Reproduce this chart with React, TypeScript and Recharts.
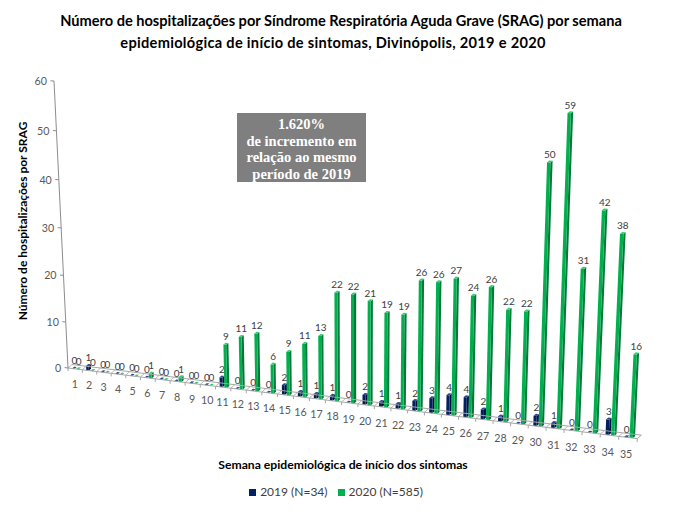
import React from 'react';
import { BarChart, Bar, XAxis, YAxis, Legend, LabelList } from 'recharts';

// Epidemiological weeks and weekly SRAG hospitalisations
const weeks = [
  '1', '2', '3', '4', '5', '6', '7', '8', '9', '10', '11', '12', '13', '14', '15', '16', '17', '18',
  '19', '20', '21', '22', '23', '24', '25', '26', '27', '28', '29', '30', '31', '32', '33', '34', '35',
];
const cases2019 = [0, 1, 0, 0, 0, 0, 0, 0, 0, 0, 2, 0, 0, 0, 2, 1, 1, 1, 0, 2, 1, 1, 2, 3, 4, 4, 2, 1, 0, 2, 1, 0, 0, 3, 0];
const cases2020 = [0, 0, 0, 0, 0, 1, 0, 1, 0, 0, 9, 11, 12, 6, 9, 11, 13, 22, 22, 21, 19, 19, 26, 26, 27, 24, 26, 22, 22, 50, 59, 31, 42, 38, 16];
const valueTicks = [0, 10, 20, 30, 40, 50, 60];
const seriesNames = ['2019 (N=34)', '2020 (N=585)'];

const data = weeks.map((w, i) => ({ week: w, y2019: cases2019[i], y2020: cases2020[i] }));

// Flat chart layout (what Recharts lays out before the 3D projection)
const W = 682;
const H = 513;
const MARGIN = { top: 60, right: 40, bottom: 50, left: 20 };
const Y_AXIS_W = 40;
const X_AXIS_H = 40;
const PL = MARGIN.left + Y_AXIS_W;
const PR = W - MARGIN.right;
const PT = MARGIN.top;
const PB = H - MARGIN.bottom - X_AXIS_H;
const BW = (PR - PL) / weeks.length;
const V_MAX = valueTicks[valueTicks.length - 1];
const flatX = (i: number) => PL + (i + 0.5) * BW;
const flatY = (v: number) => PB - (v / V_MAX) * (PB - PT);

// Perspective: map the flat plot plane onto the tilted chart plane
type Pt = [number, number];
function homography(src: Pt[], dst: Pt[]): number[] {
  const A: number[][] = [];
  for (let k = 0; k < 4; k++) {
    const [x, y] = src[k];
    const [u, v] = dst[k];
    A.push([x, y, 1, 0, 0, 0, -x * u, -y * u, u]);
    A.push([0, 0, 0, x, y, 1, -x * v, -y * v, v]);
  }
  const n = 8;
  for (let c = 0; c < n; c++) {
    let p = c;
    for (let r = c + 1; r < n; r++) if (Math.abs(A[r][c]) > Math.abs(A[p][c])) p = r;
    [A[c], A[p]] = [A[p], A[c]];
    for (let r = 0; r < n; r++) {
      if (r === c) continue;
      const f = A[r][c] / A[c][c];
      for (let k = c; k <= n; k++) A[r][k] -= f * A[c][k];
    }
  }
  return A.map((row, i) => row[n] / row[i]);
}

const HM = homography(
  [
    [PL, PB],
    [flatX(34), PB],
    [flatX(30), flatY(59)],
    [PL, PT],
  ],
  [
    [68, 368],
    [628, 437.5],
    [566, 113],
    [54, 81],
  ],
);

const project = (x: number, y: number): Pt => {
  const w = HM[6] * x + HM[7] * y + 1;
  return [(HM[0] * x + HM[1] * y + HM[2]) / w, (HM[3] * x + HM[4] * y + HM[5]) / w];
};
const add = (p: Pt, d: Pt): Pt => [p[0] + d[0], p[1] + d[1]];
const pts = (list: Pt[]) => list.map((p) => `${p[0].toFixed(2)},${p[1].toFixed(2)}`).join(' ');

const BAR_DEPTH: Pt = [2.2, -1.8];
const FLOOR_DEPTH: Pt = [4, -3.5];
const FONT = 'Lato, "Liberation Sans", sans-serif';
const NAVY = { front: '#002060', side: '#00123a', top: '#2b4a8e' };
const GREEN = { front: '#00B050', side: '#007a37', top: '#3cc878' };

type Tone = { front: string; side: string; top: string };

function Box3D(props: any & { tone: Tone }) {
  const { x, y, width, height, tone } = props;
  if (x == null || y == null) return null;
  const h = Math.max(height || 0, 0);
  const bl = project(x, y + h);
  const br = project(x + width, y + h);
  const tr = project(x + width, y);
  const tl = project(x, y);
  return (
    <g>
      {h > 0.3 && <polygon points={pts([br, add(br, BAR_DEPTH), add(tr, BAR_DEPTH), tr])} fill={tone.side} />}
      {h > 0.3 && <polygon points={pts([bl, br, tr, tl])} fill={tone.front} />}
      <polygon points={pts([tl, tr, add(tr, BAR_DEPTH), add(tl, BAR_DEPTH)])} fill={tone.top} />
    </g>
  );
}

function ValueLabel(props: any) {
  const vb = props.viewBox && props.viewBox.width != null ? props.viewBox : props;
  const { x, y, width } = vb;
  if (x == null) return null;
  const [px, py] = project(x + width / 2, y);
  return (
    <text x={px + BAR_DEPTH[0] / 2} y={py - 4.5} textAnchor="middle" fontSize={10} fill="#404040" fontFamily={FONT}>
      {props.value}
    </text>
  );
}

function WeekTick(props: any) {
  const { x, payload, index } = props;
  const cx = x;
  const left = cx - BW / 2;
  const right = cx + BW / 2;
  const fl = project(left, PB);
  const fr = project(right, PB);
  const tickL = project(left, PB + 4);
  const lab = project(cx - 1, PB + 19);
  const last = index === weeks.length - 1;
  const grey = '#a6a6a6';
  return (
    <g>
      <line x1={fl[0]} y1={fl[1]} x2={fr[0]} y2={fr[1]} stroke={grey} strokeWidth={1} />
      <line x1={fl[0] + FLOOR_DEPTH[0]} y1={fl[1] + FLOOR_DEPTH[1]} x2={fr[0] + FLOOR_DEPTH[0]} y2={fr[1] + FLOOR_DEPTH[1]} stroke={grey} strokeWidth={1} />
      <line x1={fl[0]} y1={fl[1]} x2={fl[0] + FLOOR_DEPTH[0]} y2={fl[1] + FLOOR_DEPTH[1]} stroke={grey} strokeWidth={0.8} />
      <line x1={fl[0]} y1={fl[1]} x2={tickL[0]} y2={tickL[1]} stroke={grey} strokeWidth={1} />
      {last && (
        <g>
          <line x1={fr[0]} y1={fr[1]} x2={fr[0] + FLOOR_DEPTH[0]} y2={fr[1] + FLOOR_DEPTH[1]} stroke={grey} strokeWidth={1} />
          <line x1={fr[0]} y1={fr[1]} x2={project(right, PB + 4)[0]} y2={project(right, PB + 4)[1]} stroke={grey} strokeWidth={1} />
        </g>
      )}
      <text x={lab[0]} y={lab[1]} textAnchor="middle" dominantBaseline="central" fontSize={10.7} fill="#595959" fontFamily={FONT}>
        {payload.value}
      </text>
    </g>
  );
}

function ValueTick(props: any) {
  const { y, payload } = props;
  const v = payload.value;
  const a = project(PL, y);
  const t = project(PL - 4, y);
  const l = project(PL - 8, y);
  const bottom = project(PL, PB);
  const top = project(PL, PT);
  return (
    <g>
      {v === valueTicks[0] && <line x1={bottom[0]} y1={bottom[1]} x2={top[0]} y2={top[1]} stroke="#8c8c8c" strokeWidth={1} />}
      <line x1={t[0]} y1={t[1]} x2={a[0]} y2={a[1]} stroke="#8c8c8c" strokeWidth={1} />
      <text x={l[0]} y={l[1]} textAnchor="end" dominantBaseline="central" fontSize={10.7} fill="#595959" fontFamily={FONT}>
        {v}
      </text>
    </g>
  );
}

const YTitle = () => (
  <text x={22} y={221} transform="rotate(-90 22 221)" textAnchor="middle" dominantBaseline="central" fontWeight="bold" fontSize={12} fill="#000" fontFamily={FONT}>
    Número de hospitalizações por SRAG
  </text>
);

const XTitle = () => (
  <text x={343} y={464} textAnchor="middle" dominantBaseline="central" fontWeight="bold" fontSize={12.2} fill="#000" fontFamily={FONT}>
    Semana epidemiológica de início dos sintomas
  </text>
);

export default function App() {
  return (
    <div style={{ position: 'relative', width: W, height: H, background: '#fff' }}>
      <style>{'body{margin:0}'}</style>
      <div
        style={{
          position: 'absolute',
          top: 10,
          left: 0,
          width: W,
          textAlign: 'center',
          fontFamily: FONT,
          fontWeight: 'bold',
          fontSize: 14.6,
          lineHeight: '22px',
          color: '#000',
          zIndex: 2,
        }}
      >
        <div>Número de hospitalizações por Síndrome Respiratória Aguda Grave (SRAG) por semana</div>
        <div style={{ letterSpacing: 0.3, paddingRight: 16 }}>epidemiológica de início de sintomas, Divinópolis, 2019 e 2020</div>
      </div>
      <BarChart width={W} height={H} data={data} margin={MARGIN} barCategoryGap="28%" barGap={2}>
        <XAxis
          dataKey="week"
          height={X_AXIS_H}
          interval={0}
          axisLine={false}
          tickLine={false}
          tick={<WeekTick />}
          label={<XTitle />}
        />
        <YAxis
          width={Y_AXIS_W}
          domain={[0, V_MAX]}
          ticks={valueTicks}
          interval={0}
          axisLine={false}
          tickLine={false}
          tick={<ValueTick />}
          label={<YTitle />}
        />
        <Legend
          verticalAlign="middle"
          align="center"
          layout="horizontal"
          iconType="square"
          iconSize={7}
          wrapperStyle={{ top: 484, left: 0, width: W, fontFamily: FONT, fontSize: 12 }}
          formatter={(value: string) => <span style={{ color: '#404040' }}>{value}</span>}
        />
        <Bar dataKey="y2019" name={seriesNames[0]} fill={NAVY.front} isAnimationActive={false} shape={(p: any) => <Box3D {...p} tone={NAVY} />}>
          <LabelList dataKey="y2019" content={<ValueLabel />} />
        </Bar>
        <Bar dataKey="y2020" name={seriesNames[1]} fill={GREEN.front} isAnimationActive={false} shape={(p: any) => <Box3D {...p} tone={GREEN} />}>
          <LabelList dataKey="y2020" content={<ValueLabel />} />
        </Bar>
      </BarChart>
      <div
        style={{
          position: 'absolute',
          left: 237,
          top: 113,
          width: 129,
          height: 69,
          boxSizing: 'border-box',
          paddingTop: 3,
          background: '#7f7f7f',
          color: '#fff',
          textAlign: 'center',
          fontFamily: '"Liberation Serif", "Times New Roman", serif',
          fontWeight: 'bold',
          fontSize: 14.5,
          lineHeight: '16.5px',
        }}
      >
        <div>1.620%</div>
        <div>de incremento em</div>
        <div>relação ao mesmo</div>
        <div>período de 2019</div>
      </div>
    </div>
  );
}
